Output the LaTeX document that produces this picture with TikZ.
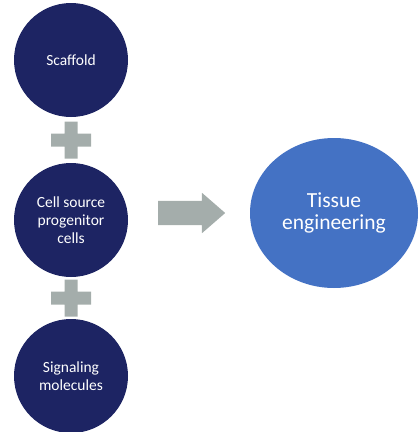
\documentclass[tikz,border=0pt]{standalone}
\usepackage{fontspec}
\setmainfont{Carlito}
\usepackage{tikz}
\usetikzlibrary{shapes.geometric,shapes.arrows}
\definecolor{navy}{HTML}{1D2463}
\definecolor{tissueblue}{HTML}{4472C4}
\definecolor{plusgray}{HTML}{A4ADAB}
\tikzstyle{partcircle} = [circle, fill=navy, text=white, minimum size=114pt, inner sep=0pt, align=center, font=\fontsize{15.5}{18}\selectfont]
\tikzstyle{resultcircle} = [ellipse, fill=tissueblue, text=white, minimum width=168pt, minimum height=150pt, inner sep=0pt, align=center, font=\fontsize{21.5}{22}\selectfont]
\tikzstyle{bigarrow} = [single arrow, fill=plusgray, minimum height=67pt, minimum width=40pt, single arrow head extend=8pt, single arrow tip angle=82, inner xsep=0pt, inner ysep=12pt, text height=0pt, text depth=0pt, shape border rotate=0]
\tikzset{plussign/.pic={\fill[plusgray] (-20pt,-6.5pt) rectangle (20pt,6.5pt) (-6.5pt,-18.5pt) rectangle (6.5pt,18.5pt);}}

\begin{document}
\begin{tikzpicture}[x=1pt,y=-1pt]
    \useasboundingbox (0,0) rectangle (419,432);
    \node [partcircle] (scaffold) at (71,60) {Scaffold};
    \node [partcircle] (cells) at (71,220) {Cell source\\progenitor\\cells};
    \node [partcircle] (signals) at (71,376) {Signaling\\molecules};
    \node [resultcircle] (tissue) at (334,213) {Tissue\\engineering};
    \path (scaffold) -- (cells) pic [midway] {plussign};
    \path (cells) -- (signals) pic [midway] {plussign};
    \node [bigarrow, anchor=tail] (combine) at (158,213) {};
\end{tikzpicture}
\end{document}
